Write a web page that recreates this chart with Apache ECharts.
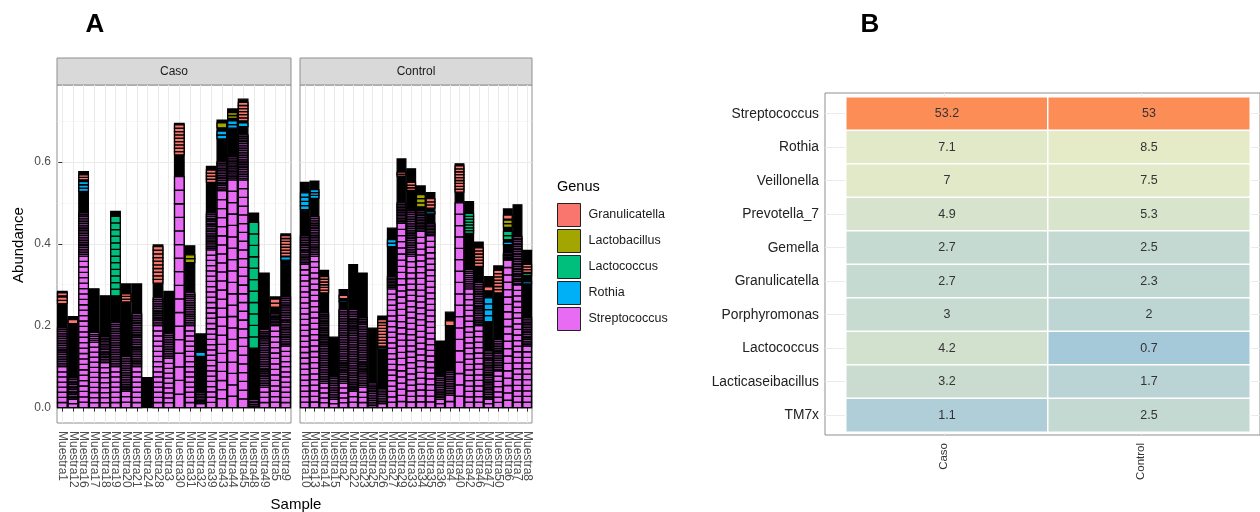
<!DOCTYPE html>
<html><head><meta charset="utf-8">
<script src="https://cdn.jsdelivr.net/npm/echarts@6/dist/echarts.min.js"></script>
<style>html,body{margin:0;padding:0;background:#fff}#c{width:1260px;height:512px}</style>
</head><body><div id="c"></div>
<script>
const FONT = '"Liberation Sans", Arial, Helvetica, sans-serif';

// ---------- Panel A data ----------
const genera = ['Granulicatella','Lactobacillus','Lactococcus','Rothia','Streptococcus'];
const genusColors = ['#F8766D','#A3A500','#00BF7D','#00B0F6','#E76BF3'];
const yTicks = [0, 0.2, 0.4, 0.6];
const yMinorTicks = [0.1, 0.3, 0.5, 0.7];

const casoSamples = ['Muestra1','Muestra12','Muestra16','Muestra17','Muestra18','Muestra19','Muestra20','Muestra21','Muestra24','Muestra28','Muestra3','Muestra30','Muestra31','Muestra32','Muestra39','Muestra43','Muestra44','Muestra45','Muestra48','Muestra49','Muestra5','Muestra9'];
const casoTotal     = [0.284,0.222,0.576,0.290,0.273,0.479,0.302,0.302,0.073,0.397,0.284,0.694,0.395,0.180,0.589,0.702,0.729,0.753,0.475,0.328,0.270,0.424];
const casoStrepTop  = [0.10,0.02,0.37,0.16,0.11,0.10,0.04,0.10,0,0.20,0.12,0.564,0.20,0.01,0.385,0.53,0.556,0.556,0,0.05,0.20,0.15];
const casoStrepSegs = [8,2,28,13,9,8,3,8,0,16,10,17,16,1,30,24,20,26,0,4,15,12];
const casoFineTop   = [0.195,0.073,0.475,0.183,0.174,0.207,0.125,0.23,0,0.268,0.18,0.564,0.28,0.036,0.475,0.60,0.613,0.666,0.02,0.19,0.23,0.27];
const casoFineSegs  = [22,13,25,5,16,25,20,31,0,16,14,0,18,7,22,17,14,26,5,33,8,29];
const casoBlocks = [
  ['Muestra1','Granulicatella',0.254,0.270,2],
  ['Muestra1','Granulicatella',0.273,0.280,1],
  ['Muestra12','Granulicatella',0.205,0.215,1],
  ['Muestra16','Granulicatella',0.556,0.568,2],
  ['Muestra16','Rothia',0.528,0.552,3],
  ['Muestra19','Lactococcus',0.273,0.467,12],
  ['Muestra20','Granulicatella',0.258,0.278,3],
  ['Muestra28','Granulicatella',0.304,0.393,10],
  ['Muestra30','Granulicatella',0.617,0.690,9],
  ['Muestra31','Lactobacillus',0.354,0.373,2],
  ['Muestra32','Rothia',0.125,0.135,1],
  ['Muestra39','Granulicatella',0.550,0.580,4],
  ['Muestra43','Lactobacillus',0.683,0.695,1],
  ['Muestra43','Rothia',0.656,0.675,2],
  ['Muestra44','Lactobacillus',0.706,0.720,2],
  ['Muestra44','Rothia',0.682,0.700,2],
  ['Muestra45','Granulicatella',0.700,0.745,6],
  ['Muestra45','Rothia',0.686,0.695,1],
  ['Muestra48','Lactococcus',0.145,0.452,11],
  ['Muestra5','Granulicatella',0.245,0.265,2],
  ['Muestra9','Granulicatella',0.370,0.420,7],
  ['Muestra9','Rothia',0.360,0.368,1]
];

const controlSamples = ['Muestra10','Muestra13','Muestra14','Muestra15','Muestra2','Muestra22','Muestra23','Muestra25','Muestra26','Muestra27','Muestra29','Muestra33','Muestra34','Muestra35','Muestra36','Muestra4','Muestra40','Muestra42','Muestra46','Muestra47','Muestra50','Muestra6','Muestra7','Muestra8'];
const controlTotal     = [0.550,0.553,0.335,0.172,0.288,0.349,0.328,0.194,0.223,0.438,0.607,0.583,0.541,0.525,0.162,0.233,0.595,0.503,0.404,0.320,0.346,0.485,0.495,0.384];
const controlStrepTop  = [0.35,0.37,0.06,0.02,0.06,0.04,0.05,0.005,0.01,0.29,0.45,0.37,0.43,0.42,0.02,0.03,0.50,0.29,0.20,0.02,0.09,0.36,0.30,0.15];
const controlStrepSegs = [26,27,5,2,5,3,4,1,1,22,30,27,30,30,2,2,18,22,15,2,7,20,22,11];
const controlFineTop   = [0.42,0.466,0.231,0.076,0.24,0.24,0.22,0.06,0.045,0.32,0.50,0.48,0.48,0.45,0.075,0.09,0.50,0.337,0.305,0.14,0.166,0.377,0.418,0.22];
const controlFineSegs  = [17,23,40,13,42,47,40,13,8,8,13,26,13,8,13,14,0,10,25,29,18,5,29,17];
const controlBlocks = [
  ['Muestra10','Rothia',0.483,0.524,4],
  ['Muestra13','Rothia',0.511,0.532,3],
  ['Muestra14','Granulicatella',0.280,0.320,6],
  ['Muestra2','Granulicatella',0.266,0.274,1],
  ['Muestra2','Rothia',0.258,0.262,1],
  ['Muestra26','Granulicatella',0.150,0.215,9],
  ['Muestra26','Rothia',0.142,0.146,1],
  ['Muestra27','Rothia',0.393,0.410,2],
  ['Muestra29','Granulicatella',0.565,0.575,2],
  ['Muestra33','Granulicatella',0.530,0.550,3],
  ['Muestra34','Lactobacillus',0.490,0.520,3],
  ['Muestra35','Granulicatella',0.487,0.510,3],
  ['Muestra35','Rothia',0.473,0.478,1],
  ['Muestra4','Granulicatella',0.200,0.212,1],
  ['Muestra40','Granulicatella',0.526,0.590,9],
  ['Muestra42','Lactococcus',0.425,0.474,7],
  ['Muestra46','Granulicatella',0.345,0.390,6],
  ['Muestra47','Granulicatella',0.285,0.295,1],
  ['Muestra47','Rothia',0.210,0.268,4],
  ['Muestra50','Granulicatella',0.280,0.335,7],
  ['Muestra6','Granulicatella',0.460,0.470,1],
  ['Muestra6','Lactobacillus',0.440,0.458,2],
  ['Muestra6','Lactococcus',0.410,0.430,2],
  ['Muestra6','Rothia',0.398,0.404,1],
  ['Muestra8','Granulicatella',0.330,0.350,3],
  ['Muestra8','Lactococcus',0.322,0.327,1],
  ['Muestra8','Rothia',0.302,0.307,1]
];

// ---------- Panel B data ----------
const heatGenera = ['Streptococcus','Rothia','Veillonella','Prevotella_7','Gemella','Granulicatella','Porphyromonas','Lactococcus','Lacticaseibacillus','TM7x'];
const heatGroups = ['Caso','Control'];
const heatCaso    = [53.2,7.1,7,4.9,2.7,2.7,3,4.2,3.2,1.1];
const heatControl = [53,8.5,7.5,5.3,2.5,2.3,2,0.7,1.7,2.5];

// ---------- build ----------
function buildItems(samples,total,strepTop,strepSegs,fineTop,fineSegs,blocks){
  const items=[];
  const sIdx = genera.indexOf('Streptococcus');
  samples.forEach((s,i)=>{
    items.push([i,0,total[i],1,-1]);
    if(strepTop[i]>0) items.push([i,0,strepTop[i],strepSegs[i],sIdx]);
    if(fineTop[i]>strepTop[i]) items.push([i,strepTop[i],fineTop[i],fineSegs[i],sIdx]);
  });
  blocks.forEach(b=>items.push([samples.indexOf(b[0]),b[2],b[3],b[4],genera.indexOf(b[1])]));
  return items;
}
function renderBar(params, api){
  const xi=api.value(0), y0=api.value(1), y1=api.value(2);
  const n=Math.max(1,api.value(3)), gi=api.value(4);
  const bw=api.size([1,0])[0]*0.9;
  const pb=api.coord([xi,y0]), pt=api.coord([xi,y1]);
  const h=(pb[1]-pt[1])/n;
  const fill = gi<0 ? '#000' : genusColors[gi];
  const children=[];
  for(let k=0;k<n;k++){
    children.push({type:'rect',shape:{x:pb[0]-bw/2,y:pb[1]-(k+1)*h,width:bw,height:h},
      style:{fill:fill,stroke:'#000',lineWidth:1.3}});
  }
  return {type:'group',children};
}

const casoItems = buildItems(casoSamples,casoTotal,casoStrepTop,casoStrepSegs,casoFineTop,casoFineSegs,casoBlocks);
const controlItems = buildItems(controlSamples,controlTotal,controlStrepTop,controlStrepSegs,controlFineTop,controlFineSegs,controlBlocks);
const heatData = [];
heatGenera.forEach((g,i)=>{
  heatData.push([0,i,heatCaso[i],Math.log(heatCaso[i])]);
  heatData.push([1,i,heatControl[i],Math.log(heatControl[i])]);
});

const GRIDLINE = '#EBEBEB';
const BORDER = '#8F8F8F';
// value axis used by the bars + vertical gridlines at sample centres
function sampleValueAxis(grid, samples){
  return {type:'value', gridIndex:grid, position:'bottom', min:-0.5, max:samples.length-0.5,
    axisLine:{show:false},
    axisTick:{show:false, customValues:samples.map((s,i)=>i)},
    axisLabel:{show:false, customValues:samples.map((s,i)=>i)},
    splitLine:{show:true, lineStyle:{color:GRIDLINE, width:1}}};
}
// category axis carrying the sample names and ticks
function sampleLabelAxis(grid, samples){
  return {type:'category', gridIndex:grid, position:'bottom', data:samples, boundaryGap:true,
    axisLine:{show:false},
    axisTick:{show:true, alignWithLabel:true, interval:0, length:4, lineStyle:{color:'#333'}},
    axisLabel:{show:true, interval:0, rotate:-90, fontSize:12, fontFamily:FONT, color:'#4D4D4D', margin:8},
    splitLine:{show:false}};
}
function abundY(grid, labels){
  return {type:'value', gridIndex:grid, min:-0.0375, max:0.7875,
    axisLine:{show:false},
    axisTick:{show:labels, length:4, lineStyle:{color:'#333'}, customValues:yTicks},
    axisLabel:{show:labels, fontSize:12, fontFamily:FONT, color:'#4D4D4D', margin:6,
      showMinLabel:true, showMaxLabel:true,
      customValues:yTicks, formatter:v=>v.toFixed(1)},
    splitLine:{show:true, lineStyle:{color:GRIDLINE, width:1.1}}};
}
function minorY(grid){
  return {type:'value', gridIndex:grid, min:-0.0375, max:0.7875,
    axisLine:{show:false}, axisTick:{show:false, customValues:yMinorTicks}, axisLabel:{show:false, customValues:yMinorTicks},
    splitLine:{show:true, lineStyle:{color:'#F2F2F2', width:0.6}}};
}

const option = {
  animation:false,
  backgroundColor:'#fff',
  textStyle:{fontFamily:FONT},
  grid:[
    {left:57, top:85, width:234, height:338, show:true, borderColor:BORDER, borderWidth:1, backgroundColor:'#fff'},
    {left:300, top:85, width:232, height:338, show:true, borderColor:BORDER, borderWidth:1, backgroundColor:'#fff'},
    {left:825, top:93, width:446, height:342, show:true, borderColor:BORDER, borderWidth:1, backgroundColor:'#fff'},
    {left:846, top:97, width:404, height:335}
  ],
  xAxis:[
    sampleValueAxis(0, casoSamples),
    sampleLabelAxis(0, casoSamples),
    sampleValueAxis(1, controlSamples),
    sampleLabelAxis(1, controlSamples),
    {type:'value', gridIndex:2, min:-0.604, max:1.604, axisLine:{show:false},
      axisTick:{show:true, length:4, lineStyle:{color:'#333'}, customValues:[0,1]},
      axisLabel:{show:true, rotate:90, fontSize:11.5, fontFamily:FONT, color:'#333', margin:8,
        showMinLabel:true, showMaxLabel:true,
        customValues:[0,1], formatter:v=>heatGroups[Math.round(v)]},
      splitLine:{show:true, lineStyle:{color:GRIDLINE}}},
    {type:'category', gridIndex:3, data:heatGroups, show:false}
  ],
  yAxis:[
    abundY(0,true), minorY(0), abundY(1,false), minorY(1),
    {type:'value', gridIndex:2, inverse:true, min:-0.619, max:9.59, axisLine:{show:false},
      axisTick:{show:true, length:4, lineStyle:{color:'#333'}, customValues:heatGenera.map((g,i)=>i)},
      axisLabel:{show:true, fontSize:13.8, fontFamily:FONT, color:'#222', margin:6,
        showMinLabel:true, showMaxLabel:true,
        customValues:heatGenera.map((g,i)=>i), formatter:v=>heatGenera[Math.round(v)]},
      splitLine:{show:true, lineStyle:{color:GRIDLINE, width:1}}},
    {type:'category', gridIndex:3, data:heatGenera, inverse:true, show:false}
  ],
  legend:{data:genera, orient:'vertical', left:557, top:203, padding:0, itemWidth:23, itemHeight:23, itemGap:2,
    icon:'rect', selectedMode:false,
    itemStyle:{borderColor:'#222', borderWidth:1},
    textStyle:{fontSize:12.5, fontFamily:FONT, color:'#1A1A1A', padding:[0,0,0,3]}},
  visualMap:{type:'continuous', show:false, seriesIndex:2, dimension:3,
    min:Math.log(0.7), max:Math.log(53.2),
    inRange:{color:['#A5C9D8','#B3D0D6','#C2D8D2','#D4E1CD','#E6ECC8','#F2D9A8','#FDAF7C','#FD8D57']}},
  series:[
    {type:'custom', name:'caso', xAxisIndex:0, yAxisIndex:0, renderItem:renderBar, data:casoItems,
      encode:{x:0,y:[1,2]}, silent:true},
    {type:'custom', name:'control', xAxisIndex:2, yAxisIndex:2, renderItem:renderBar, data:controlItems,
      encode:{x:0,y:[1,2]}, silent:true},
    {type:'heatmap', xAxisIndex:5, yAxisIndex:5, data:heatData,
      itemStyle:{borderColor:'#fff', borderWidth:1.5},
      label:{show:true, formatter:p=>String(p.value[2]), fontSize:12.5, fontFamily:FONT, color:'#333'},
      emphasis:{disabled:true}}
  ].concat(genera.map((g,i)=>({type:'bar', name:g, xAxisIndex:1, yAxisIndex:0, data:[],
      itemStyle:{color:genusColors[i], borderColor:'#222', borderWidth:1}}))),
  graphic:[
    {type:'text', x:95, y:25, style:{text:'A', font:'bold 26px '+FONT, fill:'#000', align:'center', verticalAlign:'middle'}},
    {type:'text', x:870, y:25, style:{text:'B', font:'bold 26px '+FONT, fill:'#000', align:'center', verticalAlign:'middle'}},
    {type:'rect', shape:{x:57, y:58, width:234, height:27}, style:{fill:'#D9D9D9', stroke:BORDER, lineWidth:1}},
    {type:'text', x:174, y:72, style:{text:'Caso', font:'12px '+FONT, fill:'#1A1A1A', align:'center', verticalAlign:'middle'}},
    {type:'rect', shape:{x:300, y:58, width:232, height:27}, style:{fill:'#D9D9D9', stroke:BORDER, lineWidth:1}},
    {type:'text', x:416, y:72, style:{text:'Control', font:'12px '+FONT, fill:'#1A1A1A', align:'center', verticalAlign:'middle'}},
    {type:'text', x:19, y:245, rotation:Math.PI/2, style:{text:'Abundance', font:'15px '+FONT, fill:'#000', align:'center', verticalAlign:'middle'}},
    {type:'text', x:296, y:505, style:{text:'Sample', font:'15px '+FONT, fill:'#000', align:'center', verticalAlign:'middle'}},
    {type:'text', x:557, y:187, style:{text:'Genus', font:'14.5px '+FONT, fill:'#000', align:'left', verticalAlign:'middle'}}
  ]
};
const chart = echarts.init(document.getElementById('c'), null, {renderer:'canvas'});
chart.setOption(option);
</script>
</body></html>
